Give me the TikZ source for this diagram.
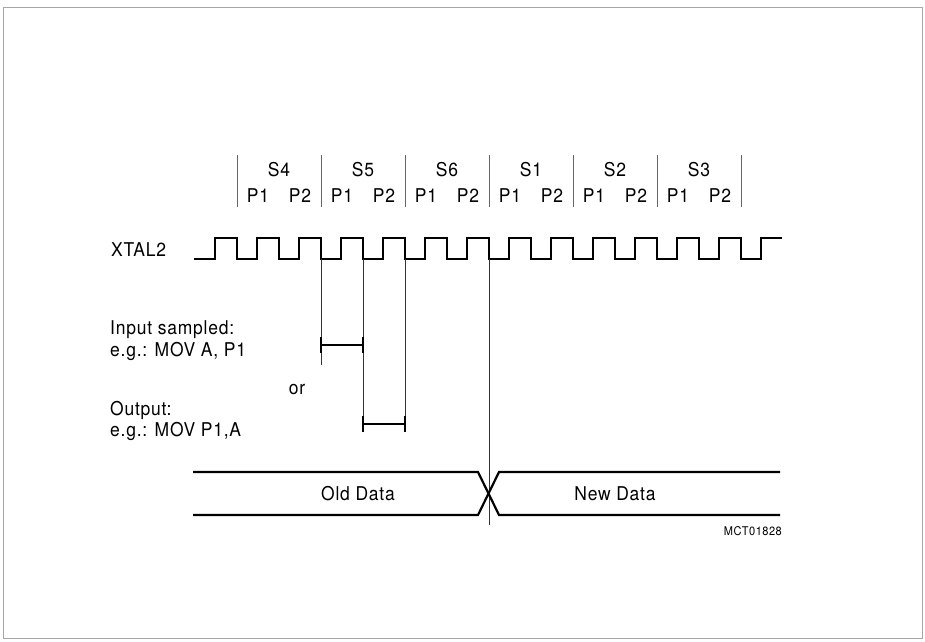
\documentclass[tikz,border=0pt]{standalone}
\usepackage{fontspec}
\setmainfont{TeX Gyre Heros}[LetterSpace=4,FakeStretch=0.92]
\begin{document}
\begin{tikzpicture}[x=1pt,y=-1pt,
  lbl/.style={font=\fontsize{19}{22}\selectfont, inner sep=0pt},
  small/.style={font=\fontsize{12}{14}\selectfont, inner sep=0pt},
  sig/.style={line width=2.2pt, line join=miter},
  guide/.style={line width=0.6pt, black!80},
  sep/.style={line width=0.6pt, black!60},
  bar/.style={line width=1.8pt},
  tick/.style={line width=2.2pt}]
\useasboundingbox (0,0) rectangle (925,641);
\draw[black!35, line width=0.6pt] (3,7) rectangle (922,638);
% state separators
\foreach \x in {237,321,405,489,573,657,741}
  \draw[sep] (\x,155) -- (\x,207);
% state and phase labels
\foreach \s [count=\i from 0] in {S4,S5,S6,S1,S2,S3} {
  \node[lbl] (s\i) at ({279+84*\i},170) {\s};
  \node[lbl] (p1\i) at ({258+84*\i},196) {P1};
  \node[lbl] (p2\i) at ({300+84*\i},196) {P2};
}
% clock
\node[lbl, anchor=west] (xtal) at (111,250) {XTAL2};
\draw[sig] (194,259)
  foreach \k in {0,...,12} { -- ({215+42*\k},259) -- ({215+42*\k},238) -- ({237+42*\k},238) -- ({237+42*\k},259) }
  -- (761,259) -- (761,238) -- (782,238);
% guide lines
\coordinate (g1t) at (321,259); \coordinate (g1b) at (321,365);
\coordinate (g2t) at (363,259); \coordinate (g2b) at (363,432);
\coordinate (g3t) at (405,259); \coordinate (g3b) at (405,432);
\coordinate (g4t) at (489,259); \coordinate (g4b) at (489,525);
\draw[guide] (g1t) -- (g1b);
\draw[guide] (g2t) -- (g2b);
\draw[guide] (g3t) -- (g3b);
\draw[guide] (g4t) -- (g4b);
% input sampled bar
\coordinate (ia) at (321,345); \coordinate (ib) at (363,345);
\draw[bar] (ia) -- (ib);
\draw[tick] (321,337) -- (321,353);
\draw[tick] (363,337) -- (363,353);
% output bar
\coordinate (oa) at (363,424); \coordinate (ob) at (405,424);
\draw[bar] (oa) -- (ob);
\draw[tick] (363,416) -- (363,432);
\draw[tick] (405,416) -- (405,432);
% texts
\node[lbl, anchor=west] (in1) at (110,330) {Input sampled:};
\node[lbl, anchor=west] (in2) at (110,351) {e.g.: MOV A, P1};
\node[lbl] (or) at (297,390) {or};
\node[lbl, anchor=west] (out1) at (110,410) {Output:};
\node[lbl, anchor=west] (out2) at (110,431) {e.g.: MOV P1,A};
% data bus
\draw[sig] (193,472) -- (478,472) -- (499,515) -- (780,515);
\draw[sig] (193,515) -- (478,515) -- (499,472) -- (780,472);
\node[lbl] (old) at (358,494) {Old Data};
\node[lbl] (new) at (615,494) {New Data};
\node[small, anchor=east] (id) at (782,531) {MCT01828};
\end{tikzpicture}
\end{document}
